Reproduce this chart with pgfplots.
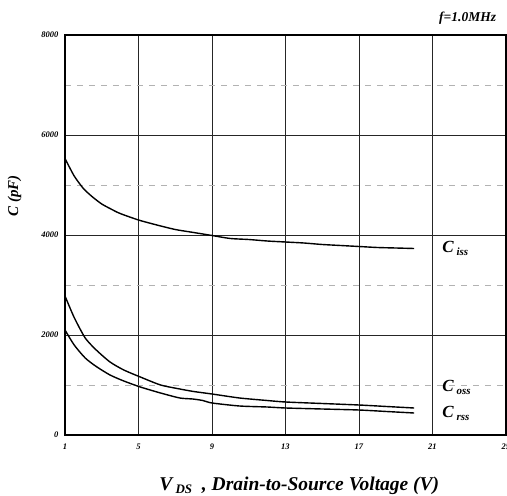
\documentclass[border=0pt]{standalone}
\usepackage{fontspec}
\setmainfont{Liberation Serif}
\usepackage{pgfplots}
\pgfplotsset{compat=1.18}
\begin{document}
\begin{tikzpicture}
\useasboundingbox (0,0) rectangle (507pt,496pt);
\begin{axis}[
  at={(65pt,61pt)}, anchor=south west,
  scale only axis, width=441pt, height=400pt,
  xmin=1, xmax=25, ymin=0, ymax=8000,
  xtick={1,5,9,13,17,21,25},
  ytick={0,2000,4000,6000,8000},
  minor ytick={1000,3000,5000,7000},
  /pgf/number format/assume math mode=true,
  scaled y ticks=false,
  yticklabel style={/pgf/number format/set thousands separator={}},
  ticklabel style={font=\fontsize{8.5}{9}\selectfont\bfseries\itshape},
  major tick length=0pt, minor tick length=0pt,
  xmajorgrids, ymajorgrids, yminorgrids,
  major grid style={black!85, line width=0.7pt},
  minor grid style={gray!60, dashed, dash pattern=on 6pt off 6pt, line width=0.7pt},
  axis line style={line width=1.7pt},
  xticklabel style={yshift=-5pt},
  yticklabel style={xshift=-3pt},
  clip=false,
]
\addplot[black, line width=1.4pt, smooth, tension=0.4] coordinates {
(1,5530)(1.5,5180)(2,4930)(2.5,4760)(3,4620)(3.5,4520)(4,4430)(5,4300)(6,4200)(7,4110)(8,4050)(9,3990)(10,3930)(11,3910)(12,3880)(13,3860)(14,3840)(15,3810)(16,3790)(17,3770)(18,3750)(19,3740)(20,3730)};
\addplot[black, line width=1.4pt, smooth, tension=0.4] coordinates {
(1,2780)(1.5,2350)(2.1,1940)(2.7,1700)(3.45,1460)(4.2,1300)(5.1,1160)(6.2,1000)(7.25,920)(8,870)(9,820)(10.5,740)(12,690)(13,660)(15,630)(17,600)(18.5,570)(20,540)};
\addplot[black, line width=1.4pt, smooth, tension=0.4] coordinates {
(1,2100)(1.5,1800)(2.1,1540)(2.7,1370)(3.45,1200)(4.2,1080)(5.1,960)(6.2,840)(7.25,740)(7.95,720)(8.5,690)(9,640)(10.5,580)(12,560)(13,540)(15,520)(17,500)(18.5,470)(20,440)};
\node[anchor=west, font=\fontsize{17}{18}\selectfont\bfseries\itshape] at (axis cs:21.35,3740) {C\,\fontsize{11}{12}\selectfont\raisebox{-3pt}{iss}};
\node[anchor=west, font=\fontsize{17}{18}\selectfont\bfseries\itshape] at (axis cs:21.35,960) {C\,\fontsize{11}{12}\selectfont\raisebox{-3pt}{oss}};
\node[anchor=west, font=\fontsize{17}{18}\selectfont\bfseries\itshape] at (axis cs:21.35,440) {C\,\fontsize{11}{12}\selectfont\raisebox{-3pt}{rss}};
\node[anchor=south east, font=\fontsize{13.5}{14}\selectfont\bfseries\itshape] at (axis cs:24.65,8140) {f=1.0MHz};
\node[rotate=90, font=\fontsize{15}{16}\selectfont\bfseries\itshape] at (axis cs:-1.75,4780) {C (pF)};
\node[font=\fontsize{19.5}{20}\selectfont\bfseries\itshape] at (axis cs:13.75,-1020) {V\,\fontsize{13}{14}\selectfont\raisebox{-3pt}{DS}\fontsize{19.5}{20}\selectfont\ \ , Drain-to-Source Voltage (V)};
\end{axis}
\end{tikzpicture}
\end{document}
